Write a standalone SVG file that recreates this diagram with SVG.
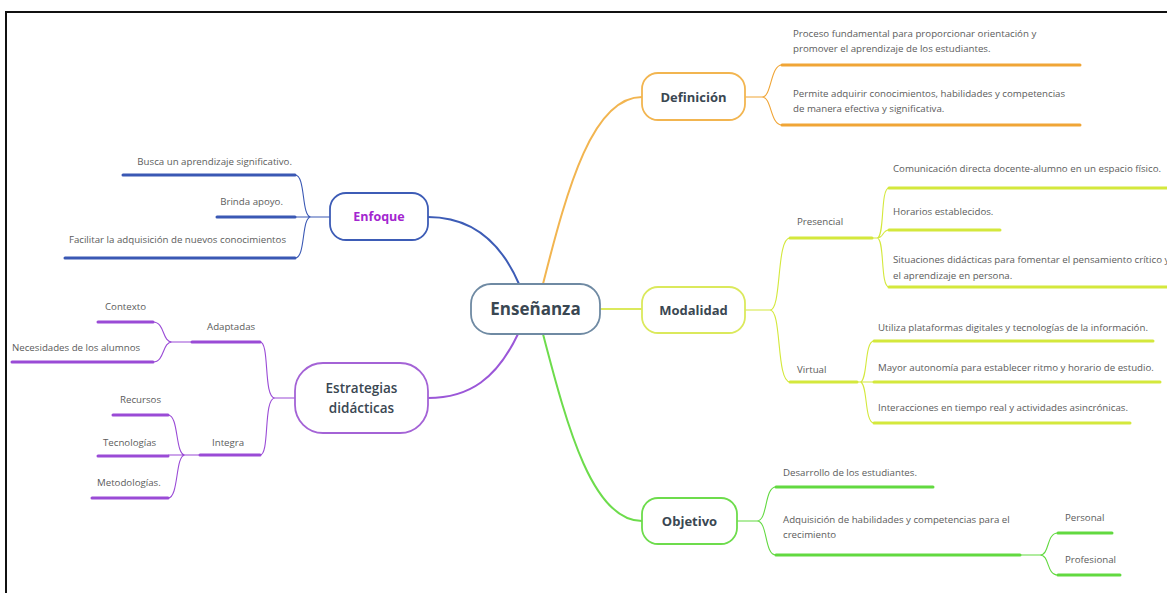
<svg xmlns="http://www.w3.org/2000/svg" width="1167" height="593" viewBox="0 0 1167 593">
<style>
.leaf{font-family:"Open Sans","Liberation Sans",sans-serif;font-size:9.7px;fill:#5c5c5c}
.lbl{font-family:"Open Sans","Liberation Sans",sans-serif;font-weight:700;font-size:13px;fill:#3a4752;text-anchor:middle}
.box{fill:#ffffff;stroke-width:1.8}
.c{fill:none;stroke-width:1.1}
.u{fill:none;stroke-width:3;stroke-linecap:round}
.m{fill:none;stroke-width:2}
.or{stroke:#f0a536}.yg{stroke:#d4e83c}.gr{stroke:#62d940}.bl{stroke:#3a58b4}.pu{stroke:#9a4bd6}
</style>
<rect width="1167" height="593" fill="#ffffff"/>
<path d="M6,593 V12 H1167" fill="none" stroke="#111" stroke-width="2"/>

<g id="connectors">
  <path class="m" stroke="#f2b550" d="M543,284 C568,185 593,97 642,97"/>
  <path class="m" stroke="#dbe95c" d="M600,309 H642"/>
  <path class="m" stroke="#6ddc4c" d="M543,334 C568,430 593,521 642,521"/>
  <path class="m" stroke="#3d5cb6" d="M519,284 C500,240 470,217 428,217"/>
  <path class="m" stroke="#9b57d8" d="M518,334 C497,378 470,398 428,398"/>

  <path class="c or" d="M745,97 H762 C772,97 770,65 782,65 M762,97 C772,97 770,125 782,125"/>
  <path class="u or" d="M782,65 H1080 M782,125 H1080"/>

  <path class="c yg" d="M745,310 H770 C782,310 776,238 790,238 M770,310 C782,310 776,382 790,382"/>
  <path class="u yg" d="M790,238 H872 M790,382 H857"/>
  <path class="c yg" d="M872,238 H877 C885,238 880,188 889,188 M877,238 C884,238 882,230 889,230 M877,238 C885,238 880,287 889,287"/>
  <path class="u yg" d="M889,188 H1168 M889,230 H1000 M889,287 H1168"/>
  <path class="c yg" d="M857,382 H860 C868,382 864,341 874,341 M860,382 H874 M860,382 C868,382 864,423 874,423"/>
  <path class="u yg" d="M874,341 H1153 M874,382 H1160 M874,423 H1130"/>

  <path class="c gr" d="M737,521 H757 C768,521 764,487 776,487 M757,521 C768,521 764,555 776,555"/>
  <path class="u gr" d="M776,487 H933 M776,555 H1020"/>
  <path class="c gr" d="M1020,555 H1040 C1050,555 1046,533 1058,533 M1040,555 C1050,555 1046,575 1058,575"/>
  <path class="u gr" d="M1058,533 H1112 M1058,575 H1120"/>

  <path class="c bl" d="M330,217 H311 C301,217 306,175 295,175 M311,217 H295 M311,217 C301,217 306,258 295,258"/>
  <path class="u bl" d="M295,175 H123 M295,217 H217 M295,258 H65"/>

  <path class="c pu" d="M295,398 H275 C263,398 270,342 260,342 M275,398 C263,398 270,455 260,455"/>
  <path class="u pu" d="M260,342 H192 M260,455 H200"/>
  <path class="c pu" d="M192,342 H172 C162,342 165,322 153,322 M172,342 C162,342 165,362 153,362"/>
  <path class="u pu" d="M153,322 H98 M153,362 H12"/>
  <path class="c pu" d="M200,455 H185 C175,455 179,415 168,415 M185,455 H168 M185,455 C175,455 179,498 168,498"/>
  <path class="u pu" d="M168,415 H113 M168,456 H98 M168,498 H92"/>
</g>

<g id="ensenanza">
  <rect class="box" x="471" y="284" width="129" height="50" rx="20" stroke="#6f8aa3" fill="#fbfdff"/>
  <text class="lbl" x="535.5" y="315" style="font-size:17px">Enseñanza</text>
</g>

<g id="definicion">
  <rect class="box" x="642" y="73" width="103" height="47" rx="16" stroke="#f2b550"/>
  <text class="lbl" x="693.5" y="101.5">Definición</text>
  <text class="leaf" x="793" y="37">Proceso fundamental para proporcionar orientación y</text>
  <text class="leaf" x="793" y="52">promover el aprendizaje de los estudiantes.</text>
  <text class="leaf" x="793" y="97">Permite adquirir conocimientos, habilidades y competencias</text>
  <text class="leaf" x="793" y="112">de manera efectiva y significativa.</text>
</g>

<g id="modalidad">
  <rect class="box" x="642" y="287" width="103" height="46" rx="16" stroke="#dbe95c"/>
  <text class="lbl" x="693.5" y="314.5">Modalidad</text>
</g>
<g id="presencial">
  <text class="leaf" x="797" y="225">Presencial</text>
  <text class="leaf" x="893" y="172">Comunicación directa docente-alumno en un espacio físico.</text>
  <text class="leaf" x="893" y="215">Horarios establecidos.</text>
  <text class="leaf" x="893" y="263">Situaciones didácticas para fomentar el pensamiento crítico y</text>
  <text class="leaf" x="893" y="279">el aprendizaje en persona.</text>
</g>
<g id="virtual">
  <text class="leaf" x="797" y="373">Virtual</text>
  <text class="leaf" x="878" y="331">Utiliza plataformas digitales y tecnologías de la información.</text>
  <text class="leaf" x="878" y="371">Mayor autonomía para establecer ritmo y horario de estudio.</text>
  <text class="leaf" x="878" y="411">Interacciones en tiempo real y actividades asincrónicas.</text>
</g>

<g id="objetivo">
  <rect class="box" x="642" y="498" width="95" height="46" rx="16" stroke="#6ddc4c"/>
  <text class="lbl" x="689.5" y="525.5">Objetivo</text>
  <text class="leaf" x="783" y="476">Desarrollo de los estudiantes.</text>
  <text class="leaf" x="783" y="523">Adquisición de habilidades y competencias para el</text>
  <text class="leaf" x="783" y="538">crecimiento</text>
  <text class="leaf" x="1065" y="521">Personal</text>
  <text class="leaf" x="1065" y="563">Profesional</text>
</g>

<g id="enfoque">
  <rect class="box" x="330" y="193" width="98" height="47" rx="16" stroke="#3d5cb6"/>
  <text class="lbl" x="379" y="221" style="fill:#a326cf;font-size:12.5px">Enfoque</text>
  <text class="leaf" x="292" y="165" text-anchor="end">Busca un aprendizaje significativo.</text>
  <text class="leaf" x="283" y="205" text-anchor="end">Brinda apoyo.</text>
  <text class="leaf" x="286" y="243" text-anchor="end">Facilitar la adquisición de nuevos conocimientos</text>
</g>

<g id="estrategias">
  <rect class="box" x="295" y="363" width="133" height="70" rx="28" stroke="#a463d6"/>
  <text class="lbl" x="361.5" y="393" style="font-weight:600;font-size:13.5px">Estrategias</text>
  <text class="lbl" x="361.5" y="413" style="font-weight:600;font-size:13.5px">didácticas</text>
  <text class="leaf" x="207" y="330">Adaptadas</text>
  <text class="leaf" x="212" y="446">Integra</text>
  <text class="leaf" x="105" y="310">Contexto</text>
  <text class="leaf" x="12" y="351">Necesidades de los alumnos</text>
  <text class="leaf" x="120" y="403">Recursos</text>
  <text class="leaf" x="103" y="446">Tecnologías</text>
  <text class="leaf" x="97" y="486">Metodologías.</text>
</g>
</svg>
